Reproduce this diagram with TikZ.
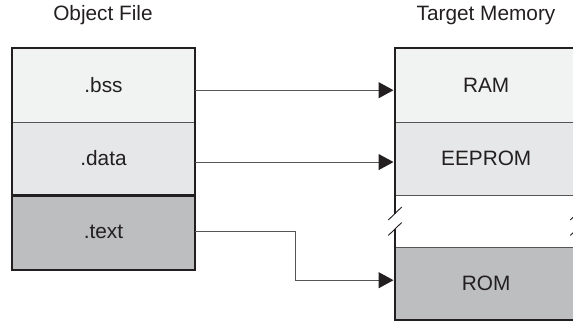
\documentclass[tikz,border=0pt]{standalone}
\usepackage{fontspec}
\setmainfont{Liberation Sans}
\usetikzlibrary{arrows.meta}
\definecolor{ink}{HTML}{231F20}
\definecolor{rowA}{HTML}{F1F2F2}
\definecolor{rowB}{HTML}{E6E7E8}
\definecolor{rowC}{HTML}{BCBEC0}
\definecolor{thin}{HTML}{555555}
\tikzset{
  row/.style={rectangle, draw=none, inner sep=0pt, anchor=north west,
    minimum width=182pt, text=ink, font=\fontsize{20.8}{24}\selectfont},
  title/.style={text=ink, font=\fontsize{20.8}{24}\selectfont, inner sep=0pt},
  outline/.style={draw=ink, line width=2.3pt},
  divider/.style={draw=thin, line width=1.1pt},
  conn/.style={draw=thin, line width=1.1pt,
    -{Triangle[length=15pt,width=16pt,color=ink,fill=ink]}, shorten >=1.5pt},
  brk/.style={draw=ink, line width=0.9pt}
}
\begin{document}
\begin{tikzpicture}[x=1pt,y=-1pt]
\useasboundingbox (0,0) rectangle (573,321);
\clip (0,0) rectangle (573,321);
% titles
\node[title] (tl) at (103,15.5) {Object File};
\node[title] (tr) at (486,15.5) {Target Memory};
% left box rows
\node[row, fill=rowA, minimum height=73.4pt] (bss)  at (12.3,48.3)  {.bss};
\node[row, fill=rowB, minimum height=73.3pt] (data) at (12.3,121.7) {.data};
\node[row, fill=rowC, minimum height=74.3pt] (text) at (12.3,195)   {.text};
% right box rows
\node[row, fill=rowA, minimum height=73.4pt] (ram)    at (395,48.3)  {RAM};
\node[row, fill=rowB, minimum height=73.3pt] (eeprom) at (395,121.7) {EEPROM};
\node[row, fill=white, minimum height=51.7pt] (gap)   at (395,195)   {};
\node[row, fill=rowC, minimum height=72.6pt] (rom)    at (395,246.7) {ROM};
% left box lines
\draw[divider] (bss.south west) -- (bss.south east);
\draw[outline] (data.south west) -- (data.south east);
\draw[outline] (bss.north west) rectangle (text.south east);
% right box lines
\draw[divider] (ram.south west) -- (ram.south east);
\draw[divider] (eeprom.south west) -- (eeprom.south east);
\draw[divider] (gap.south west) -- (gap.south east);
\draw[outline] (ram.north west) -- (ram.north east);
\draw[outline] (rom.south west) -- (rom.south east);
\coordinate (lb1) at (395,213.5);
\coordinate (lb2) at (395,229);
\coordinate (rb1) at (577,213.5);
\coordinate (rb2) at (577,229);
\draw[outline, line cap=butt] ([yshift=1.15pt]ram.north west) -- (lb1);
\draw[outline, line cap=butt] (lb2) -- ([yshift=-1.15pt]rom.south west);
\draw[outline, line cap=butt] ([yshift=1.15pt]ram.north east) -- (rb1);
\draw[outline, line cap=butt] (rb2) -- ([yshift=-1.15pt]rom.south east);
% break marks
\draw[brk] ([shift={(-6.7,6.5)}]lb1) -- ([shift={(6.7,-6.5)}]lb1);
\draw[brk] ([shift={(-6.7,6.5)}]lb2) -- ([shift={(6.7,-6.5)}]lb2);
\draw[brk] ([shift={(-6.7,6.5)}]rb1) -- ([shift={(6.7,-6.5)}]rb1);
\draw[brk] ([shift={(-6.7,6.5)}]rb2) -- ([shift={(6.7,-6.5)}]rb2);
% connectors
\draw[conn] ([yshift=-5pt]bss.east) -- ([yshift=-5pt]ram.west);
\draw[conn] ([yshift=-3.5pt]data.east) -- ([yshift=-3.5pt]eeprom.west);
\draw[conn] ([yshift=1pt]text.east) -- ++(100.7,0) |- ([yshift=3pt]rom.west);
\end{tikzpicture}
\end{document}
